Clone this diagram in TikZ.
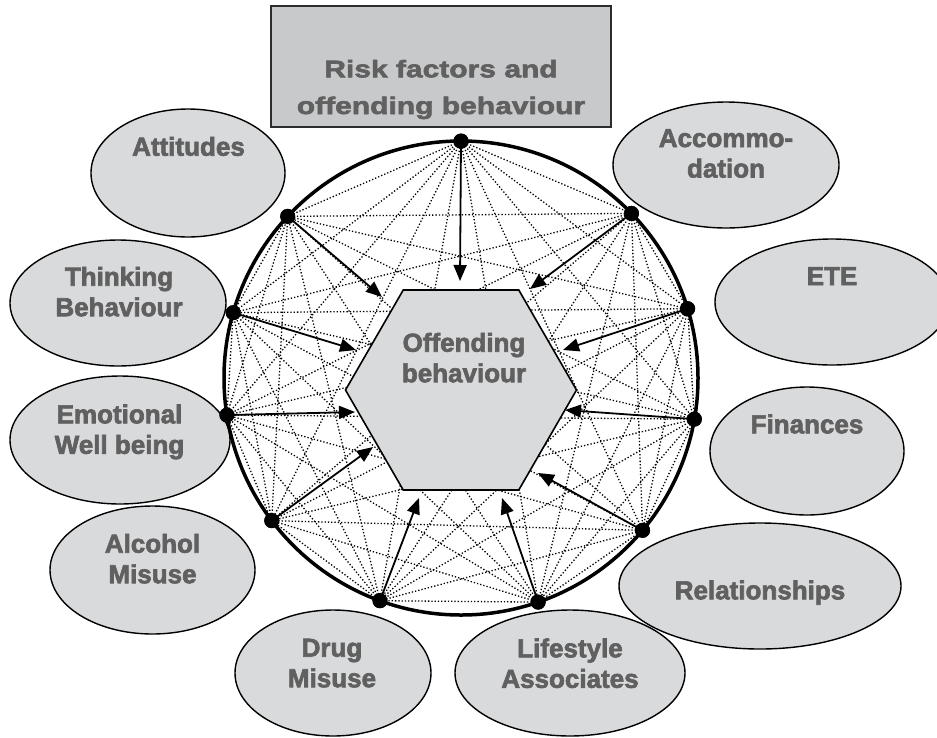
\documentclass[tikz,border=0pt]{standalone}
\usepackage{fontspec}
\setmainfont{Liberation Sans}[BoldFeatures={FakeBold=2.5}]
\newfontfamily\titlefont{Liberation Sans}[FakeStretch=1.25,BoldFeatures={FakeBold=2.5}]
\usetikzlibrary{shapes.geometric,arrows.meta}
\definecolor{bubblefill}{RGB}{217,218,220}
\definecolor{bannerfill}{RGB}{200,201,203}
\definecolor{ink}{RGB}{96,96,96}
\definecolor{frame}{RGB}{45,45,45}
\newcommand\twoline[2]{\begin{tabular}[t]{@{}c@{}}#1\\#2\end{tabular}}

\begin{document}
\begin{tikzpicture}[x=1pt,y=-1pt,
  bubble/.style={ellipse,draw=black,line width=1.4pt,fill=bubblefill,inner sep=0pt},
  lbl/.style={anchor=base,inner sep=0pt,text=ink,font=\fontsize{26}{30.5}\selectfont\bfseries},
  web/.style={dotted,line width=1.3pt},
  spoke/.style={line width=1.8pt,-{Triangle[length=16pt,width=13pt]}},
  pin/.style={circle,fill=black,inner sep=0pt,minimum size=15pt}]
\useasboundingbox (0,0) rectangle (937,737);
\clip (0,0) rectangle (937,737);

% risk factor bubbles
\node[bubble,minimum width=194pt,minimum height=128pt] (att)  at (188,173)   {};
\node[bubble,minimum width=226pt,minimum height=126pt] (acc)  at (726,165)   {};
\node[bubble,minimum width=234pt,minimum height=126pt] (ete)  at (832,302)   {};
\node[bubble,minimum width=194pt,minimum height=128pt] (fin)  at (807,451)   {};
\node[bubble,minimum width=282pt,minimum height=126pt] (rel)  at (760,586)   {};
\node[bubble,minimum width=230pt,minimum height=126pt] (life) at (570,673)   {};
\node[bubble,minimum width=196pt,minimum height=126pt] (drug) at (333,673)   {};
\node[bubble,minimum width=205pt,minimum height=128pt] (alc)  at (152.5,570) {};
\node[bubble,minimum width=220pt,minimum height=128pt] (emo)  at (120,440)   {};
\node[bubble,minimum width=216pt,minimum height=126pt] (thk)  at (118,303)   {};

\node[lbl] (att-t)  at (188.5,155.7) {Attitudes};
\node[lbl] (acc-t)  at (726,147)     {\twoline{Accommo-}{dation}};
\node[lbl] (ete-t)  at (832,285)     {ETE};
\node[lbl] (fin-t)  at (807,433.3)   {Finances};
\node[lbl] (rel-t)  at (760,599.3)   {Relationships};
\node[lbl] (life-t) at (570,657.3)   {\twoline{Lifestyle}{Associates}};
\node[lbl] (drug-t) at (332,656.7)   {\twoline{Drug}{Misuse}};
\node[lbl] (alc-t)  at (152.5,552.7) {\twoline{Alcohol}{Misuse}};
\node[lbl] (emo-t)  at (119.5,423.3) {\twoline{Emotional}{Well being}};
\node[lbl] (thk-t)  at (119,285.7)   {\twoline{Thinking}{Behaviour}};

% heading
\node[draw=frame,line width=2pt,fill=bannerfill,inner sep=0pt,
      minimum width=340pt,minimum height=121pt] (banner) at (441,66.5) {};
\node[anchor=base,inner sep=0pt,text=ink,
      font=\titlefont\fontsize{24}{36.7}\selectfont\bfseries] (banner-t) at (441,77.3)
      {\twoline{Risk factors and}{offending behaviour}};

% the ring
\node[circle,draw=black,line width=3.5pt,inner sep=0pt,outer sep=0pt,
      minimum size=474pt] (ring) at (461,378) {};

% points on the ring
\node[pin] (d1)  at (ring.90.5)  {};
\node[pin] (d2)  at (ring.44.2)  {};
\node[pin] (d3)  at (ring.17.2)  {};
\node[pin] (d4)  at (ring.-10.3) {};
\node[pin] (d5)  at (ring.-40.7) {};
\node[pin] (d6)  at (ring.-71.9) {};
\node[pin] (d7)  at (ring.250.2) {};
\node[pin] (d8)  at (ring.217.2) {};
\node[pin] (d9)  at (ring.189.9) {};
\node[pin] (d10) at (ring.164.4) {};
\node[pin] (d11) at (ring.137.9) {};

% every factor linked with every other
\foreach \i in {1,...,10}{
  \pgfmathtruncatemacro\k{\i+1}
  \foreach \j in {\k,...,11}{
    \draw[web] (d\i.center) -- (d\j.center);
  }
}

% central hexagon
\node[regular polygon,regular polygon sides=6,minimum size=231pt,inner sep=0pt,
      draw=black,line width=1.6pt,fill=bubblefill] (hex) at (461,390) {};
\node[lbl] (hex-t) at (464,351.7) {\twoline{Offending}{behaviour}};

% arrow ends
\coordinate (t1)  at (460,281);
\coordinate (t2)  at (530,289);
\coordinate (t3)  at (563,350);
\coordinate (t4)  at (565,410);
\coordinate (t5)  at (538,473);
\coordinate (t6)  at (502,498);
\coordinate (t7)  at (419,498);
\coordinate (t8)  at (373,447);
\coordinate (t9)  at (355,412);
\coordinate (t10) at (356,350);
\coordinate (t11) at (382,297);

\foreach \i in {1,...,11}{
  \draw[spoke] (d\i.center) -- (t\i);
}
\foreach \i in {1,...,11}{
  \fill (d\i.center) circle[radius=7.5];
}
\end{tikzpicture}
\end{document}
